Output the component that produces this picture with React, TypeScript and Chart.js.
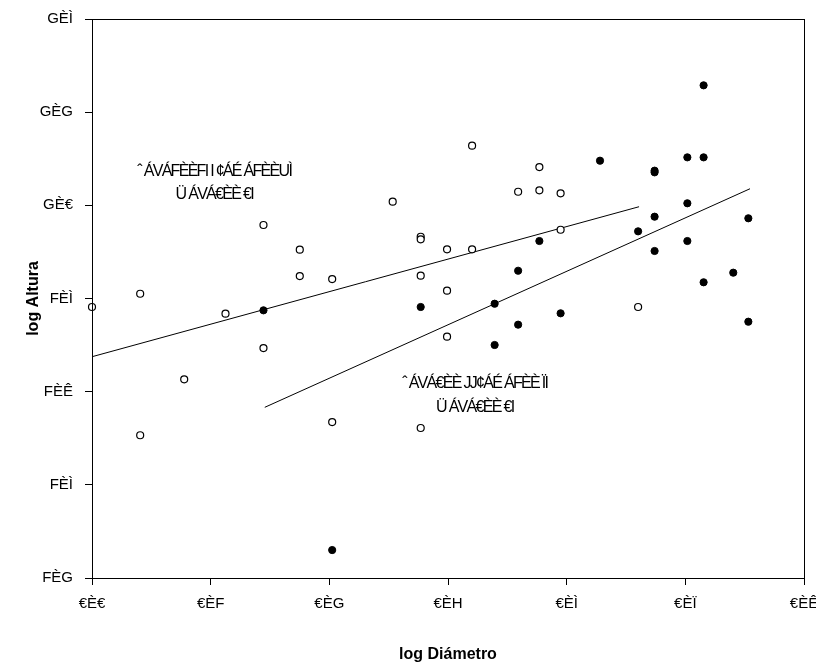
import React, { useEffect, useRef } from "react";
import { Chart, registerables } from "chart.js";

Chart.register(...registerables);

const xTickLabels = ["€È€", "€ÈF", "€ÈG", "€ÈH", "€ÈÌ", "€ÈÏ", "€ÈÊ"];
const yTickLabels = ["FÈG", "FÈÌ", "FÈÊ", "FÈÌ", "GÈ€", "GÈG", "GÈÌ"];

const openX = [0.0, 0.406, 0.406, 0.777, 1.125, 1.445, 1.445, 1.751, 1.751, 2.024, 2.024, 2.534, 2.77, 2.77, 2.77, 2.77, 2.992, 2.992, 2.992, 3.203, 3.203, 3.591, 3.77, 3.77, 3.949, 3.949, 4.602];
const openY = [2.909, 3.051, 1.532, 2.133, 2.837, 3.789, 2.468, 3.524, 3.241, 3.209, 1.674, 4.039, 3.663, 3.635, 3.245, 1.61, 3.528, 3.084, 2.59, 4.64, 3.528, 4.146, 4.411, 4.161, 4.129, 3.738, 2.909];

const filledX = [1.445, 2.024, 2.77, 3.393, 3.393, 3.591, 3.591, 3.77, 3.949, 4.281, 4.602, 4.741, 4.741, 4.741, 4.741, 5.017, 5.017, 5.017, 5.154, 5.154, 5.154, 5.404, 5.531, 5.531];
const filledY = [2.873, 0.30, 2.909, 2.944, 2.501, 3.298, 2.719, 3.617, 2.841, 4.479, 3.721, 4.372, 4.354, 3.878, 3.51, 4.515, 4.022, 3.617, 4.515, 5.288, 3.174, 3.277, 3.861, 2.751];

const openFitX = [0, 4.61];
const openFitY = [2.375, 3.985];
const filledFitX = [1.456, 5.545];
const filledFitY = [1.832, 4.178];

const annotationTexts = [
  ["ˆ ÁVÁFÈÈFI I ¢ÁÉ ÁFÈÈUÌ", "Ü ÁVÁ€ÈÈ €I"],
  ["ˆ ÁVÁ€ÈÈ JJ¢ÁÉ ÁFÈÈ ÏI", "Ü ÁVÁ€ÈÈ €I"],
];
const annotationAnchorX = [1.03, 3.225];
const annotationAnchorY = [[4.36, 4.115], [2.083, 1.825]];

const FONT = '"Liberation Sans", Arial, sans-serif';

const toPoints = (xs: number[], ys: number[]) => xs.map((x, i) => ({ x, y: ys[i] }));

const framePlugin = {
  id: "frame",
  afterDraw(chart: any) {
    const { ctx, chartArea } = chart;
    ctx.save();
    ctx.strokeStyle = "#000";
    ctx.lineWidth = 1;
    ctx.strokeRect(
      Math.round(chartArea.left) + 0.5,
      Math.round(chartArea.top) + 0.5,
      Math.round(chartArea.right - chartArea.left),
      Math.round(chartArea.bottom - chartArea.top)
    );
    ctx.restore();
  },
};

const annotationPlugin = {
  id: "annotations",
  afterDraw(chart: any) {
    const { ctx, scales } = chart;
    ctx.save();
    ctx.fillStyle = "#000";
    ctx.font = `16px ${FONT}`;
    ctx.textAlign = "center";
    ctx.textBaseline = "middle";
    (ctx as any).letterSpacing = "-1.7px";
    annotationTexts.forEach((lines, i) => {
      const px = scales.x.getPixelForValue(annotationAnchorX[i]);
      lines.forEach((line, j) => {
        const py = scales.y.getPixelForValue(annotationAnchorY[i][j]);
        ctx.fillText(line, px, py);
      });
    });
    ctx.restore();
  },
};

export default function App() {
  const canvasRef = useRef<HTMLCanvasElement | null>(null);

  useEffect(() => {
    if (!canvasRef.current) return;
    const chart = new Chart(canvasRef.current, {
      type: "scatter",
      data: {
        datasets: [
          {
            data: toPoints(openX, openY),
            pointStyle: "circle",
            pointRadius: 3.5,
            backgroundColor: "#fff",
            borderColor: "#000",
            borderWidth: 1.2,
            showLine: false,
            clip: false,
          } as any,
          {
            data: toPoints(filledX, filledY),
            pointStyle: "circle",
            pointRadius: 3.6,
            backgroundColor: "#000",
            borderColor: "#000",
            borderWidth: 1,
            showLine: false,
            clip: false,
          } as any,
          {
            data: toPoints(openFitX, openFitY),
            showLine: true,
            pointRadius: 0,
            borderColor: "#000",
            borderWidth: 1,
            fill: false,
          } as any,
          {
            data: toPoints(filledFitX, filledFitY),
            showLine: true,
            pointRadius: 0,
            borderColor: "#000",
            borderWidth: 1,
            fill: false,
          } as any,
        ],
      },
      options: {
        animation: false,
        responsive: false,
        maintainAspectRatio: false,
        layout: { padding: { top: 19, right: 12, left: 0, bottom: 0 } },
        plugins: {
          legend: { display: false },
          tooltip: { enabled: false },
        },
        scales: {
          x: {
            type: "linear",
            min: 0,
            max: 6,
            afterFit: (s: any) => {
              s.height = 92;
              s.paddingLeft = 0;
              s.paddingRight = 0;
            },
            ticks: {
              stepSize: 1,
              autoSkip: false,
              maxRotation: 0,
              padding: 10,
              color: "#000",
              font: { family: FONT, size: 15 },
              callback: (v: any) => xTickLabels[Math.round(Number(v))] ?? "",
            },
            grid: { drawOnChartArea: false, tickLength: 7, color: "#000", lineWidth: 1 },
            border: { color: "#000", width: 1 },
            title: {
              display: true,
              text: "log Diámetro",
              color: "#000",
              font: { family: FONT, size: 16, weight: "bold" },
              padding: { top: 0, bottom: 6 },
            },
          },
          y: {
            type: "linear",
            min: 0,
            max: 6,
            afterFit: (s: any) => {
              s.width = 92;
              s.paddingTop = 0;
              s.paddingBottom = 0;
            },
            ticks: {
              stepSize: 1,
              autoSkip: false,
              padding: 12,
              color: "#000",
              font: { family: FONT, size: 15 },
              callback: (v: any) => yTickLabels[Math.round(Number(v))] ?? "",
            },
            grid: { drawOnChartArea: false, tickLength: 7, color: "#000", lineWidth: 1 },
            border: { color: "#000", width: 1 },
            title: {
              display: true,
              text: "log Altura",
              color: "#000",
              font: { family: FONT, size: 16, weight: "bold" },
              padding: { top: 24, bottom: 0 },
            },
          },
        },
      },
      plugins: [framePlugin, annotationPlugin],
    } as any);
    return () => chart.destroy();
  }, []);

  return (
    <div style={{ position: "fixed", left: 0, top: 0, width: 816, height: 670, background: "#fff" }}>
      <canvas ref={canvasRef} width={816} height={670} style={{ display: "block", width: 816, height: 670 }} />
    </div>
  );
}
